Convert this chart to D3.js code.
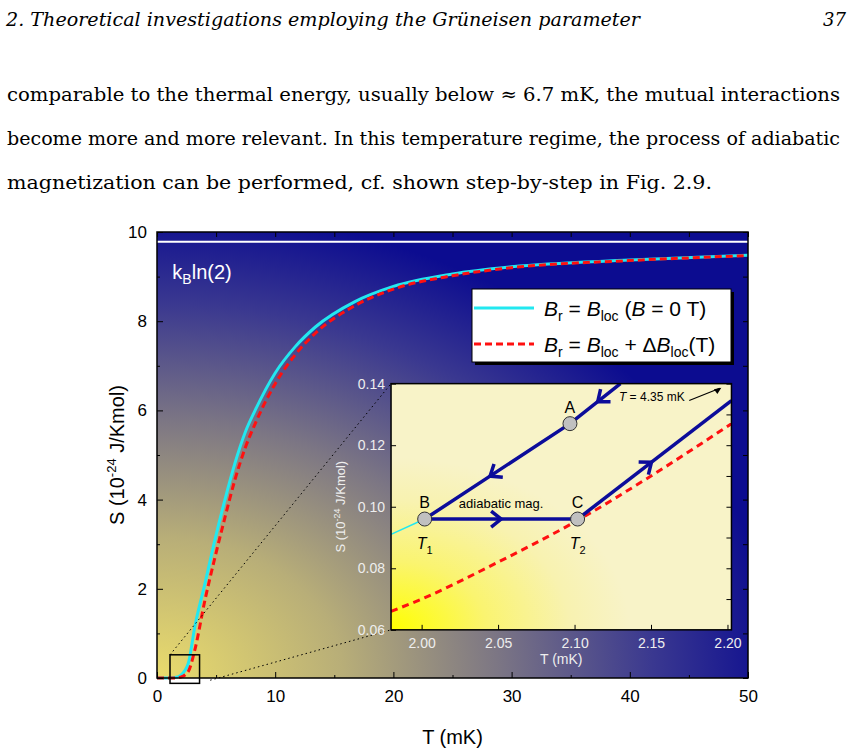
<!DOCTYPE html>
<html><head><meta charset="utf-8">
<script src="https://cdn.jsdelivr.net/npm/d3@7"></script>
<style>body{margin:0;background:#fff}</style>
</head><body>
<svg id="c" width="852" height="754"></svg>
<script>
// main curves S(T)
var tVals = [0, 1, 1.5, 2, 2.65, 3.2, 4.06, 4.9, 5.75, 6.6, 7.45, 8.3, 10, 11.7, 13.4, 16.75, 20, 25, 30, 40, 50];
var sCyan = [0, 0, 0.01, 0.06, 0.33, 1.15, 2.12, 3.1, 4.0, 4.82, 5.5, 6.0, 6.84, 7.43, 7.87, 8.44, 8.78, 9.06, 9.22, 9.37, 9.48];
var sRed = [0, 0, 0, 0.02, 0.15, 0.63, 1.75, 2.7, 3.6, 4.45, 5.15, 5.7, 6.6, 7.25, 7.73, 8.35, 8.72, 9.02, 9.2, 9.36, 9.47];
var kbLn2 = 9.78;
var xTicks = [0, 10, 20, 30, 40, 50];
var yTicks = [0, 2, 4, 6, 8, 10];
// inset
var inTRed = [1.98, 2.0, 2.05, 2.1, 2.15, 2.2026];
var inSRed = [0.066, 0.070, 0.082, 0.095, 0.110, 0.127];
var inCyanT = [1.98, 2.002];
var inCyanS = [0.091, 0.096];
var pathAB = [[2.13, 0.140], [2.097, 0.127], [2.002, 0.096]];
var pathBC = [[2.002, 0.096], [2.102, 0.096]];
var pathC = [[2.102, 0.096], [2.2026, 0.1345]];
var points = [{n: "A", t: 2.097, s: 0.127}, {n: "B", t: 2.002, s: 0.096}, {n: "C", t: 2.102, s: 0.096}];
var inXTicks = [2.0, 2.05, 2.1, 2.15, 2.2];
var inYTicks = [0.06, 0.08, 0.10, 0.12, 0.14];

var svg = d3.select("#c");
var defs = svg.append("defs");
var g1 = defs.append("radialGradient").attr("id", "bg").attr("cx", 0).attr("cy", 1).attr("r", 1.05);
[[0, "#eadc6c"], [0.3, "#b8ae78"], [0.55, "#7c7684"], [0.8, "#3a3890"], [1, "#0c0c90"]].forEach(function (s) {
  g1.append("stop").attr("offset", s[0]).attr("stop-color", s[1]);
});
var g2 = defs.append("radialGradient").attr("id", "ibg").attr("cx", 0).attr("cy", 1).attr("r", 0.7);
[[0, "#ffff00"], [0.4, "#faf470"], [0.75, "#f8f2b0"], [1, "#f8f3c8"]].forEach(function (s) {
  g2.append("stop").attr("offset", s[0]).attr("stop-color", s[1]);
});

// page text
var serif = "'DejaVu Serif', 'Liberation Serif', serif";
svg.append("text").attr("x", 6).attr("y", 26).attr("font-family", serif).attr("font-style", "italic").attr("font-size", 18)
  .attr("textLength", 634).attr("lengthAdjust", "spacingAndGlyphs")
  .text("2. Theoretical investigations employing the Grüneisen parameter");
svg.append("text").attr("x", 846).attr("y", 26).attr("text-anchor", "end").attr("font-family", serif).attr("font-style", "italic").attr("font-size", 18).text("37");
var para = [
  ["comparable to the thermal energy, usually below ≈ 6.7 mK, the mutual interactions", 840],
  ["become more and more relevant. In this temperature regime, the process of adiabatic", 840],
  ["magnetization can be performed, cf. shown step-by-step in Fig. 2.9.", 712]
];
para.forEach(function (p, i) {
  svg.append("text").attr("x", 7).attr("y", 101 + i * 44).attr("font-family", serif).attr("font-size", 19)
    .attr("textLength", p[1] - 7).attr("lengthAdjust", "spacingAndGlyphs").text(p[0]);
});

// main chart
var L = 157, R = 748, T = 232, B = 678;
var x = d3.scaleLinear().domain([0, 50]).range([L, R]);
var y = d3.scaleLinear().domain([0, 10]).range([B, T]);
var sans = "'Liberation Sans', Arial, sans-serif";
svg.append("rect").attr("x", L).attr("y", T).attr("width", R - L).attr("height", B - T).attr("fill", "url(#bg)");
svg.append("line").attr("x1", L).attr("x2", R).attr("y1", y(kbLn2)).attr("y2", y(kbLn2)).attr("stroke", "#fff").attr("stroke-width", 2);
svg.append("text").attr("x", x(1.3)).attr("y", y(8.95)).attr("fill", "#fff").attr("font-family", sans).attr("font-size", 20)
  .html("k<tspan font-size='14' dy='5'>B</tspan><tspan dy='-5'>ln(2)</tspan>");

var line = d3.line().curve(d3.curveMonotoneX);
var cyanPts = tVals.map(function (t, i) { return [x(t), y(sCyan[i])]; });
var redPts = tVals.map(function (t, i) { return [x(t), y(sRed[i])]; });
svg.append("path").attr("d", line(cyanPts)).attr("fill", "none").attr("stroke", "#22e8f0").attr("stroke-width", 3);
svg.append("path").attr("d", line(redPts)).attr("fill", "none").attr("stroke", "#ff1010").attr("stroke-width", 3).attr("stroke-dasharray", "7,4");

// axes with inward ticks
var gx = svg.append("g").attr("transform", "translate(0," + B + ")");
gx.call(d3.axisBottom(x).tickValues(xTicks).tickSizeInner(-6).tickSizeOuter(0).tickPadding(12));
gx.select(".domain").remove();
gx.selectAll("text").attr("font-family", sans).attr("font-size", 17).attr("fill", "#000");
var gxm = svg.append("g").attr("transform", "translate(0," + B + ")");
gxm.call(d3.axisBottom(x).tickValues(d3.range(5, 50, 10)).tickSizeInner(-3).tickSizeOuter(0).tickFormat(""));
gxm.select(".domain").remove();
var gy = svg.append("g").attr("transform", "translate(" + L + ",0)");
gy.call(d3.axisLeft(y).tickValues(yTicks).tickSizeInner(-6).tickSizeOuter(0).tickPadding(10));
gy.select(".domain").remove();
gy.selectAll("text").attr("font-family", sans).attr("font-size", 17).attr("fill", "#000");
var gym = svg.append("g").attr("transform", "translate(" + L + ",0)");
gym.call(d3.axisLeft(y).tickValues(d3.range(1, 10, 2)).tickSizeInner(-3).tickSizeOuter(0).tickFormat(""));
gym.select(".domain").remove();
var gt = svg.append("g").attr("transform", "translate(0," + T + ")");
gt.call(d3.axisTop(x).tickValues(d3.range(0, 51, 5)).tickSizeInner(-5).tickSizeOuter(0).tickFormat(""));
gt.select(".domain").remove();
var gr = svg.append("g").attr("transform", "translate(" + R + ",0)");
gr.call(d3.axisRight(y).tickValues(d3.range(0, 11, 1)).tickSizeInner(-5).tickSizeOuter(0).tickFormat(""));
gr.select(".domain").remove();
svg.selectAll(".tick line").attr("stroke", "#000");
svg.append("rect").attr("x", L).attr("y", T).attr("width", R - L).attr("height", B - T).attr("fill", "none").attr("stroke", "#000").attr("stroke-width", 1.5);

svg.append("text").attr("x", (L + R) / 2).attr("y", 744).attr("text-anchor", "middle").attr("font-family", sans).attr("font-size", 20).text("T (mK)");
svg.append("text").attr("transform", "translate(124," + (T + B) / 2 + ") rotate(-90)").attr("text-anchor", "middle").attr("font-family", sans).attr("font-size", 20)
  .html("S (10<tspan font-size='13' dy='-8'>-24</tspan><tspan dy='8'> J/Kmol)</tspan>");

// zoom box & dotted connectors
var box = {t0: 1.1, t1: 3.6, s0: -0.12, s1: 0.52};
var inBox = {t0: 19.8, t1: 48.6, s0: 1.08, s1: 6.6};
svg.append("rect").attr("x", x(box.t0)).attr("y", y(box.s1)).attr("width", x(box.t1) - x(box.t0)).attr("height", y(box.s0) - y(box.s1))
  .attr("fill", "none").attr("stroke", "#000").attr("stroke-width", 1.5);
svg.append("line").attr("x1", x(box.t0)).attr("y1", y(box.s1)).attr("x2", x(inBox.t0)).attr("y2", y(inBox.s1))
  .attr("stroke", "#000").attr("stroke-dasharray", "1.5,3");
svg.append("line").attr("x1", x(4.5)).attr("y1", y(-0.05)).attr("x2", x(inBox.t0)).attr("y2", y(inBox.s0))
  .attr("stroke", "#000").attr("stroke-dasharray", "1.5,3");

// legend
var lg = svg.append("g").attr("transform", "translate(472,289)");
lg.append("rect").attr("x", 3).attr("y", 3).attr("width", 259).attr("height", 73).attr("fill", "#000");
lg.append("rect").attr("width", 259).attr("height", 73).attr("fill", "#fff").attr("stroke", "#000");
lg.append("line").attr("x1", 2).attr("x2", 62).attr("y1", 19).attr("y2", 19).attr("stroke", "#22e8f0").attr("stroke-width", 3);
lg.append("line").attr("x1", 2).attr("x2", 62).attr("y1", 55).attr("y2", 55).attr("stroke", "#ff1010").attr("stroke-width", 3).attr("stroke-dasharray", "7,4");
lg.append("text").attr("x", 72).attr("y", 27).attr("font-family", sans).attr("font-size", 21)
  .html("<tspan font-style='italic'>B</tspan><tspan font-size='14' dy='5'>r</tspan><tspan dy='-5'> = </tspan><tspan font-style='italic'>B</tspan><tspan font-size='14' dy='5'>loc</tspan><tspan dy='-5'> (</tspan><tspan font-style='italic'>B</tspan> = 0 T)");
lg.append("text").attr("x", 72).attr("y", 63).attr("font-family", sans).attr("font-size", 21)
  .html("<tspan font-style='italic'>B</tspan><tspan font-size='14' dy='5'>r</tspan><tspan dy='-5'> = </tspan><tspan font-style='italic'>B</tspan><tspan font-size='14' dy='5'>loc</tspan><tspan dy='-5'> + Δ</tspan><tspan font-style='italic'>B</tspan><tspan font-size='14' dy='5'>loc</tspan><tspan dy='-5'>(T)</tspan>");

// inset
var iL = x(inBox.t0), iR = x(inBox.t1), iT = y(inBox.s1), iB = y(inBox.s0);
var xi = d3.scaleLinear().domain([1.98, 2.2026]).range([iL, iR]);
var yi = d3.scaleLinear().domain([0.06, 0.14]).range([iB, iT]);
svg.append("rect").attr("x", iL).attr("y", iT).attr("width", iR - iL).attr("height", iB - iT).attr("fill", "url(#ibg)");
var il = d3.line().x(function (d) { return xi(d[0]); }).y(function (d) { return yi(d[1]); });
svg.append("path").attr("d", il.curve(d3.curveMonotoneX)(inTRed.map(function (t, i) { return [t, inSRed[i]]; })))
  .attr("fill", "none").attr("stroke", "#ff1010").attr("stroke-width", 3).attr("stroke-dasharray", "7,5");
il.curve(d3.curveLinear);
svg.append("path").attr("d", il(inCyanT.map(function (t, i) { return [t, inCyanS[i]]; }))).attr("fill", "none").attr("stroke", "#22e8f0").attr("stroke-width", 1.5);
[pathAB, pathBC, pathC].forEach(function (p) {
  svg.append("path").attr("d", il(p)).attr("fill", "none").attr("stroke", "#0c0c9a").attr("stroke-width", 3.5);
});
// open arrowheads along paths
function chevron(p0, p1, f) {
  var ax = xi(p0[0]) + (xi(p1[0]) - xi(p0[0])) * f, ay = yi(p0[1]) + (yi(p1[1]) - yi(p0[1])) * f;
  var ang = Math.atan2(yi(p1[1]) - yi(p0[1]), xi(p1[0]) - xi(p0[0])) * 180 / Math.PI;
  svg.append("path").attr("d", "M-10,-8 L0,0 L-10,8").attr("transform", "translate(" + ax + "," + ay + ") rotate(" + ang + ")")
    .attr("fill", "none").attr("stroke", "#0c0c9a").attr("stroke-width", 3.5);
}
chevron(pathAB[0], pathAB[1], 0.45);
chevron(pathAB[1], pathAB[2], 0.55);
chevron(pathBC[0], pathBC[1], 0.5);
chevron(pathC[0], pathC[1], 0.48);
points.forEach(function (p) {
  svg.append("circle").attr("cx", xi(p.t)).attr("cy", yi(p.s)).attr("r", 7).attr("fill", "#c0c0c0").attr("stroke", "#333").attr("stroke-width", 1);
  svg.append("text").attr("x", xi(p.t)).attr("y", yi(p.s) - 11).attr("text-anchor", "middle").attr("font-family", sans).attr("font-size", 16).text(p.n);
});
svg.append("text").attr("x", xi(2.002)).attr("y", yi(0.096) + 30).attr("text-anchor", "middle").attr("font-family", sans).attr("font-size", 16)
  .html("<tspan font-style='italic'>T</tspan><tspan font-size='11' dy='5'>1</tspan>");
svg.append("text").attr("x", xi(2.102)).attr("y", yi(0.096) + 30).attr("text-anchor", "middle").attr("font-family", sans).attr("font-size", 16)
  .html("<tspan font-style='italic'>T</tspan><tspan font-size='11' dy='5'>2</tspan>");
svg.append("text").attr("x", xi(2.052)).attr("y", yi(0.096) - 11).attr("text-anchor", "middle").attr("font-family", sans).attr("font-size", 13).text("adiabatic mag.");
svg.append("text").attr("x", xi(2.172)).attr("y", yi(0.1345)).attr("text-anchor", "end").attr("font-family", sans).attr("font-size", 12)
  .html("<tspan font-style='italic'>T</tspan> = 4.35 mK");
svg.append("line").attr("x1", xi(2.175)).attr("y1", yi(0.1345)).attr("x2", xi(2.195)).attr("y2", yi(0.1385)).attr("stroke", "#000").attr("stroke-width", 1.2);
svg.append("path").attr("d", "M0,0 L-7,-3 L-7,3 Z").attr("transform", "translate(" + xi(2.196) + "," + yi(0.1387) + ") rotate(-35)");

var ix = svg.append("g").attr("transform", "translate(0," + iB + ")");
ix.call(d3.axisBottom(xi).tickValues(inXTicks).tickFormat(d3.format(".2f")).tickSizeInner(-5).tickSizeOuter(0).tickPadding(8));
ix.select(".domain").remove();
ix.selectAll("text").attr("font-family", sans).attr("font-size", 14).attr("fill", "#eee");
var iy = svg.append("g").attr("transform", "translate(" + iL + ",0)");
iy.call(d3.axisLeft(yi).tickValues(inYTicks).tickFormat(d3.format(".2f")).tickSizeInner(-5).tickSizeOuter(0).tickPadding(6));
iy.select(".domain").remove();
iy.selectAll("text").attr("font-family", sans).attr("font-size", 14).attr("fill", "#eee");
var iyr = svg.append("g").attr("transform", "translate(" + iR + ",0)");
iyr.call(d3.axisRight(yi).tickValues(d3.range(0.07, 0.14, 0.01)).tickSizeInner(-5).tickSizeOuter(0).tickFormat(""));
iyr.select(".domain").remove();
svg.selectAll(".tick line").attr("stroke", "#000");
svg.append("rect").attr("x", iL).attr("y", iT).attr("width", iR - iL).attr("height", iB - iT).attr("fill", "none").attr("stroke", "#000").attr("stroke-width", 1.5);
svg.append("text").attr("x", (iL + iR) / 2).attr("y", iB + 34).attr("text-anchor", "middle").attr("font-family", sans).attr("font-size", 14).attr("fill", "#eee").text("T (mK)");
svg.append("text").attr("transform", "translate(345," + (iT + iB) / 2 + ") rotate(-90)").attr("text-anchor", "middle").attr("font-family", sans).attr("font-size", 13).attr("fill", "#eee")
  .html("S (10<tspan font-size='9' dy='-5'>-24</tspan><tspan dy='5'> J/Kmol)</tspan>");
</script>
</body></html>
